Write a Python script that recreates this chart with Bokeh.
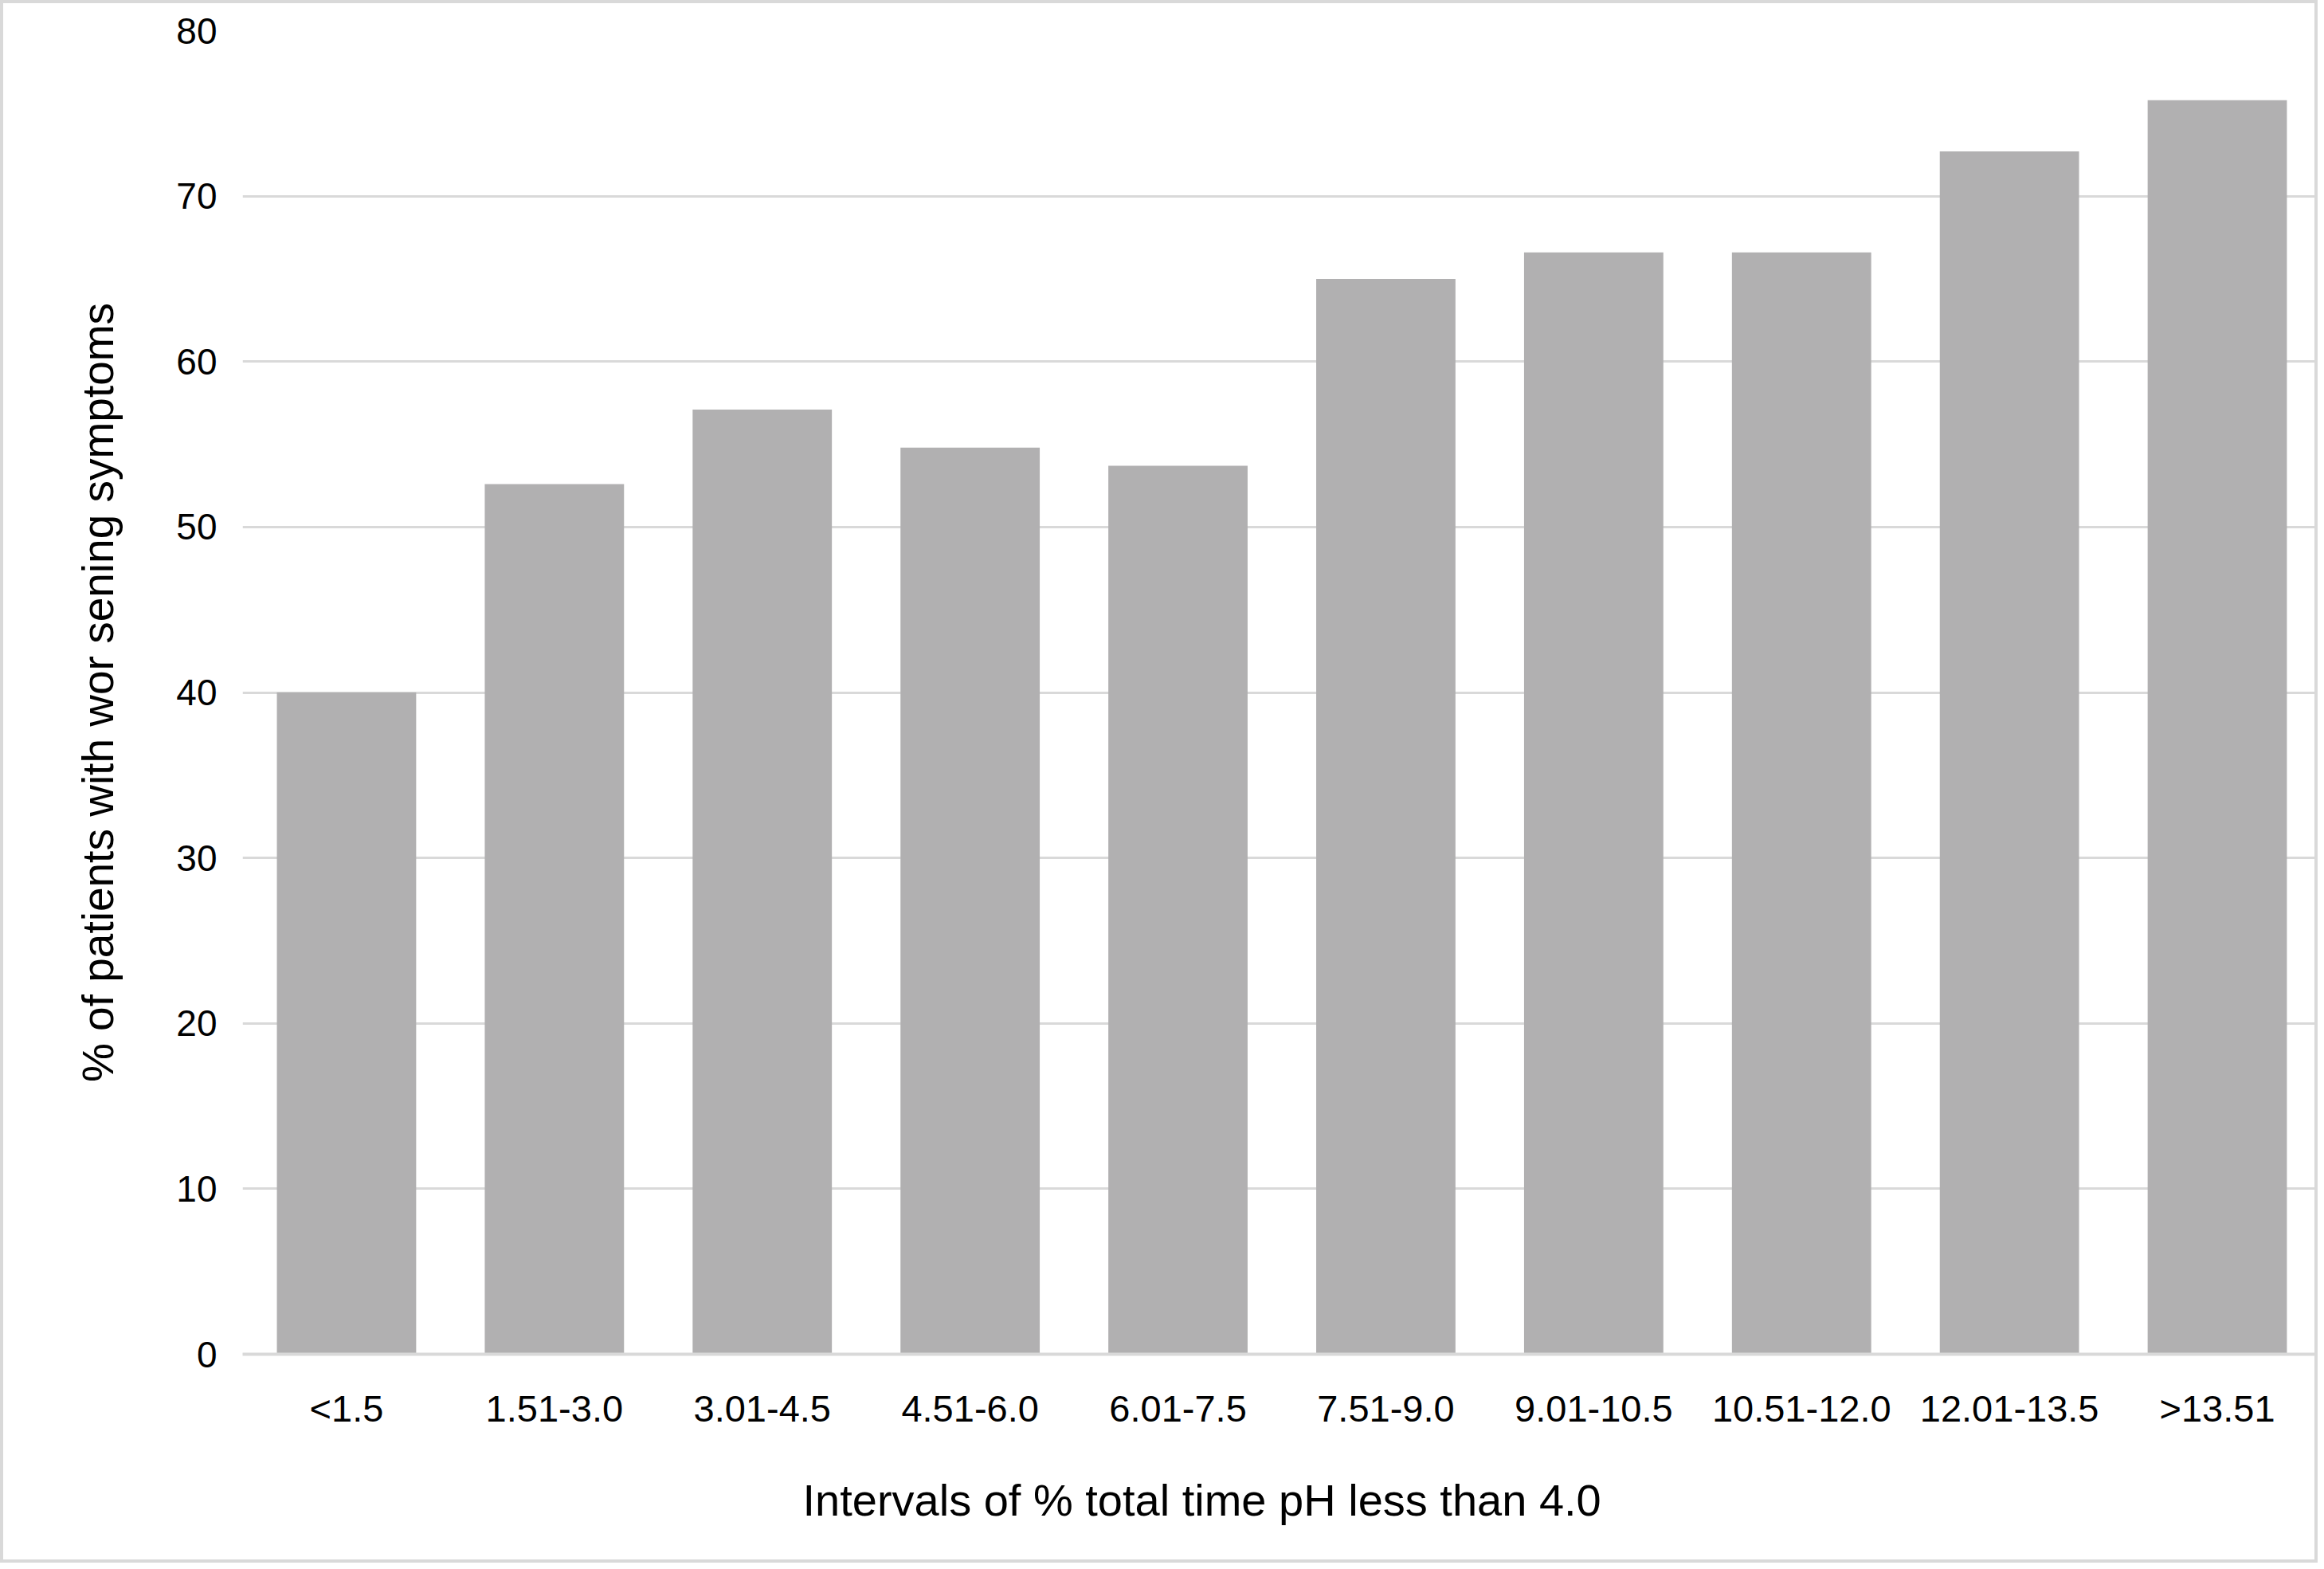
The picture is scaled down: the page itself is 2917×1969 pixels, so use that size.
from bokeh.plotting import figure
from bokeh.models import FactorRange, Range1d, FixedTicker, Title
from bokeh.embed import file_html
from bokeh.resources import INLINE

categories = ["<1.5", "1.51-3.0", "3.01-4.5", "4.51-6.0", "6.01-7.5",
              "7.51-9.0", "9.01-10.5", "10.51-12.0", "12.01-13.5", ">13.51"]
values = [40.0, 52.6, 57.1, 54.8, 53.7, 65.0, 66.6, 66.6, 72.7, 75.8]
y_ticks = [0, 10, 20, 30, 40, 50, 60, 70, 80]
x_title = "Intervals of % total time pH less than 4.0"
y_title = "% of patients with wor sening symptoms"

FONT = "Liberation Sans"

p = figure(
    x_range=FactorRange(*categories, range_padding=0),
    y_range=Range1d(0, 80),
    width=2909, height=1961,
    output_backend="svg", toolbar_location=None,
    min_border_left=300, min_border_right=0,
    min_border_top=34, min_border_bottom=264,
)
p.styles = {"border": "4px solid #d9d9d9", "box-sizing": "border-box"}
p.outline_line_color = None
p.background_fill_color = "white"
p.border_fill_color = "white"

p.vbar(x=categories, top=values, width=0.67, color="#b1b0b1", line_color=None)

p.xgrid.grid_line_color = None
p.ygrid.grid_line_color = "#d9d9d9"
p.ygrid.grid_line_width = 3
p.ygrid.ticker = FixedTicker(ticks=y_ticks)

ya = p.yaxis[0]
ya.ticker = FixedTicker(ticks=y_ticks)
ya.axis_line_color = None
ya.major_tick_line_color = None
ya.minor_tick_line_color = None
ya.major_label_text_font = FONT
ya.major_label_text_font_size = "46px"
ya.major_label_text_color = "black"
ya.major_label_standoff = 26
ya.axis_label = y_title
ya.axis_label_text_font = FONT
ya.axis_label_text_font_size = "55px"
ya.axis_label_text_font_style = "normal"
ya.axis_label_text_color = "black"
ya.axis_label_standoff = 64

xa = p.xaxis[0]
xa.axis_line_color = "#d9d9d9"
xa.axis_line_width = 4
xa.major_tick_line_color = None
xa.minor_tick_line_color = None
xa.major_label_text_font = FONT
xa.major_label_text_font_size = "47px"
xa.major_label_text_color = "black"
xa.major_label_standoff = 35

xt = Title(text=x_title, align="left", offset=703, standoff=104,
           text_font=FONT, text_font_size="56px", text_font_style="normal",
           text_color="black")
p.add_layout(xt, "below")

open("out.html", "w").write(file_html(p, INLINE))
